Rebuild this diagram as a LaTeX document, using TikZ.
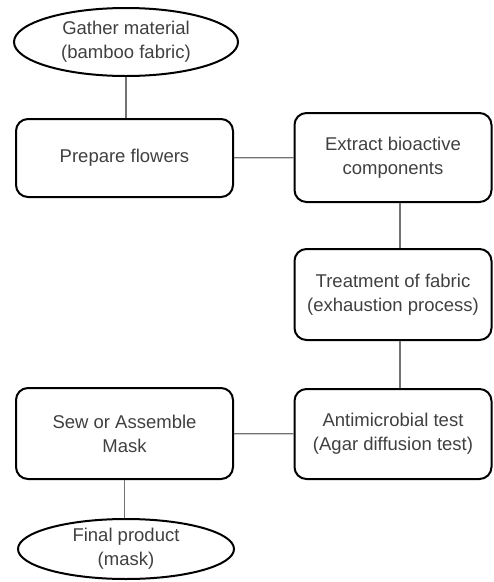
\documentclass[tikz,border=0pt]{standalone}
\usepackage{fontspec}
\setmainfont{Liberation Sans}
\usetikzlibrary{shapes.geometric}
\begin{document}
\begin{tikzpicture}
            [x=1pt, y=-1pt, font=\fontsize{18.5}{24}\selectfont, text=black!75,
            stepbox/.style={draw=black, line width=2pt, rounded corners=12pt,
                align=center, inner sep=0pt},
            endbox/.style={ellipse, draw=black, line width=2pt, align=center, inner sep=0pt},
            link/.style={draw=black!55, line width=1.2pt}]
            \useasboundingbox (0,0) rectangle (494,582);
            % left column
            \node [endbox, minimum width=224pt, minimum height=68pt] (gather) at (126,42)
                {Gather material\\(bamboo fabric)};
            \node [stepbox, minimum width=217pt, minimum height=78pt] (prepare) at (124.5,158)
                {Prepare flowers};
            \node [stepbox, minimum width=217pt, minimum height=91pt] (sew) at (124.5,433.5)
                {Sew or Assemble\\Mask};
            \node [endbox, minimum width=216pt, minimum height=60pt] (final) at (126,549)
                {Final product\\(mask)};
            % right column
            \node [stepbox, minimum width=197pt, minimum height=89pt] (extract) at (393,157.5)
                {Extract bioactive\\components};
            \node [stepbox, minimum width=197pt, minimum height=91pt] (treatment) at (393,294.5)
                {Treatment of fabric\\(exhaustion process)};
            \node [stepbox, minimum width=197pt, minimum height=90pt] (antimicrobial) at (393,434)
                {Antimicrobial test\\(Agar diffusion test)};
            % links
            \draw [link] (gather) -- (gather |- prepare.north);
            \draw [link] (prepare) -- (extract);
            \draw [link] ([xshift=7pt]extract.south) -- ([xshift=7pt]treatment.north);
            \draw [link] ([xshift=7pt]treatment.south) -- ([xshift=7pt]antimicrobial.north);
            \draw [link] (antimicrobial) -- (sew);
            \draw [link] (sew) -- (sew |- final.north);
\end{tikzpicture}
\end{document}
